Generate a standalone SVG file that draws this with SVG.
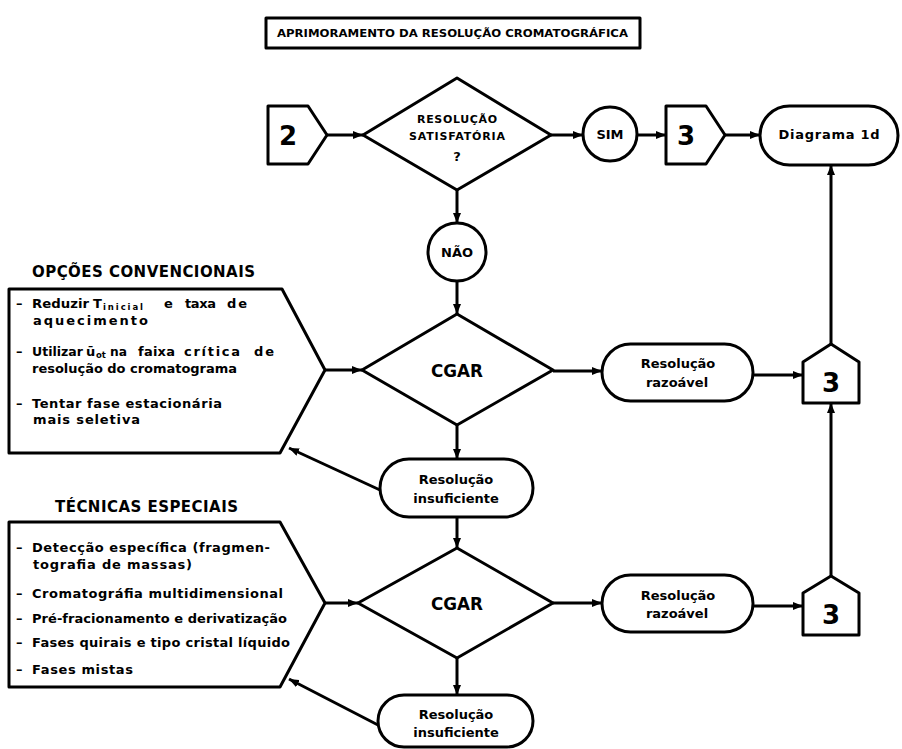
<svg xmlns="http://www.w3.org/2000/svg" width="902" height="749" viewBox="0 0 902 749">
<style>
.s{fill:#fff;stroke:#000;stroke-width:3;stroke-linejoin:round}
.c{fill:none;stroke:#000;stroke-width:3}
text{font-family:"DejaVu Sans","Liberation Sans",sans-serif;font-weight:bold;fill:#000}
.m{text-anchor:middle}
.t{font-size:13px}
.h{font-size:15px}
.n{font-size:26px;text-anchor:middle}
.r{font-size:13px;text-anchor:middle}
.sub{font-size:8.5px}
</style>
<defs>
<marker id="ah" viewBox="0 0 10 8" refX="10" refY="4" markerWidth="10" markerHeight="8" markerUnits="userSpaceOnUse" orient="auto"><path d="M0,0 L10,4 L0,8 Z" fill="#000"/></marker>
</defs>
<rect width="902" height="749" fill="#fff"/>

<g id="title">
<rect class="s" x="266" y="18" width="374" height="30"/>
<text x="277" y="37" font-size="11" textLength="351" lengthAdjust="spacingAndGlyphs">APRIMORAMENTO DA RESOLUÇÃO CROMATOGRÁFICA</text>
</g>

<g id="connectors" class="c">
<line x1="327" y1="135" x2="363" y2="135" marker-end="url(#ah)"/>
<line x1="551" y1="135" x2="583" y2="135" marker-end="url(#ah)"/>
<line x1="637" y1="135" x2="666" y2="135" marker-end="url(#ah)"/>
<line x1="725" y1="135" x2="760" y2="135" marker-end="url(#ah)"/>
<line x1="457" y1="190" x2="457" y2="223" marker-end="url(#ah)"/>
<line x1="457" y1="281" x2="457" y2="314" marker-end="url(#ah)"/>
<line x1="325" y1="370" x2="362" y2="370" marker-end="url(#ah)"/>
<line x1="553" y1="371" x2="602" y2="371" marker-end="url(#ah)"/>
<line x1="753" y1="375" x2="803" y2="375" marker-end="url(#ah)"/>
<line x1="831" y1="344" x2="831" y2="165" marker-end="url(#ah)"/>
<line x1="457" y1="425" x2="457" y2="459" marker-end="url(#ah)"/>
<line x1="380" y1="490" x2="289" y2="448" marker-end="url(#ah)"/>
<line x1="457" y1="517" x2="457" y2="548" marker-end="url(#ah)"/>
<line x1="325" y1="603" x2="358" y2="603" marker-end="url(#ah)"/>
<line x1="553" y1="603" x2="602" y2="603" marker-end="url(#ah)"/>
<line x1="753" y1="606" x2="803" y2="606" marker-end="url(#ah)"/>
<line x1="831" y1="576" x2="831" y2="403" marker-end="url(#ah)"/>
<line x1="457" y1="658" x2="457" y2="695" marker-end="url(#ah)"/>
<line x1="378" y1="725" x2="289" y2="679" marker-end="url(#ah)"/>
</g>

<g id="n2">
<path class="s" d="M268,106 L308,106 L327,135 L308,164 L268,164 Z"/>
<text class="n" x="288" y="145">2</text>
</g>

<g id="dec1">
<path class="s" d="M457,78 L551,135 L457,190 L363,135 Z"/>
<text class="m" x="457" y="123" font-size="11" textLength="80" lengthAdjust="spacing">RESOLUÇÃO</text>
<text class="m" x="457" y="140" font-size="11" textLength="96" lengthAdjust="spacing">SATISFATÓRIA</text>
<text class="m" x="457" y="161" font-size="13">?</text>
</g>

<g id="sim">
<circle class="s" cx="610" cy="134" r="27"/>
<text class="r" x="610" y="139">SIM</text>
</g>

<g id="n3top">
<path class="s" d="M666,106 L706,106 L725,135 L706,164 L666,164 Z"/>
<text class="n" x="686" y="145">3</text>
</g>

<g id="diagrama1d">
<rect class="s" x="760" y="106" width="138" height="59" rx="29.5"/>
<text x="829" y="139" font-size="13" text-anchor="middle" textLength="101" lengthAdjust="spacing">Diagrama 1d</text>
</g>

<g id="nao">
<circle class="s" cx="457" cy="252" r="29"/>
<text class="r" x="457" y="257">NÃO</text>
</g>

<g id="opcoes">
<text class="h" x="32" y="277" textLength="223" lengthAdjust="spacing">OPÇÕES CONVENCIONAIS</text>
<path class="s" d="M9,289 L282,289 L325,370 L280,453 L9,453 Z"/>
<text class="t" x="16" y="308">–</text>
<text class="t" x="32" y="308" textLength="57" lengthAdjust="spacingAndGlyphs">Reduzir</text>
<text class="t" x="93" y="308">T</text>
<text class="sub" x="103" y="310" textLength="40" lengthAdjust="spacing">inicial</text>
<text class="t" x="164" y="308">e</text>
<text class="t" x="185" y="308" textLength="31" lengthAdjust="spacing">taxa</text>
<text class="t" x="227" y="308" textLength="20" lengthAdjust="spacing">de</text>
<text class="t" x="33" y="325" textLength="115" lengthAdjust="spacing">aquecimento</text>
<text class="t" x="16" y="356">–</text>
<text class="t" x="32" y="356" textLength="51" lengthAdjust="spacingAndGlyphs">Utilizar</text>
<text class="t" x="86" y="356">ū</text>
<text class="sub" x="96" y="358">ot</text>
<text class="t" x="110" y="356" textLength="17" lengthAdjust="spacingAndGlyphs">na</text>
<text class="t" x="138" y="356" textLength="37" lengthAdjust="spacing">faixa</text>
<text class="t" x="184" y="356" textLength="56" lengthAdjust="spacing">crítica</text>
<text class="t" x="254" y="356" textLength="20" lengthAdjust="spacing">de</text>
<text class="t" x="32" y="373" textLength="205" lengthAdjust="spacing">resolução do cromatograma</text>
<text class="t" x="16" y="408">–</text>
<text class="t" x="32" y="408" textLength="190" lengthAdjust="spacing">Tentar fase estacionária</text>
<text class="t" x="33" y="424" textLength="107" lengthAdjust="spacing">mais seletiva</text>
</g>

<g id="cgar1">
<path class="s" d="M457,314 L553,370 L457,425 L362,370 Z"/>
<text class="m" x="457" y="377" font-size="17" textLength="52" lengthAdjust="spacingAndGlyphs">CGAR</text>
</g>

<g id="razoavel1">
<rect class="s" x="602" y="344" width="151" height="57" rx="28.5"/>
<text class="r" x="678" y="368">Resolução</text>
<text class="r" x="677" y="387">razoável</text>
</g>

<g id="n3a">
<path class="s" d="M803,403 L803,362 L831,344 L859,362 L859,403 Z"/>
<text class="n" x="831" y="392">3</text>
</g>

<g id="insuf1">
<rect class="s" x="380" y="459" width="153" height="58" rx="29"/>
<text class="r" x="456" y="484">Resolução</text>
<text class="r" x="456" y="503">insuficiente</text>
</g>

<g id="tecnicas">
<text class="h" x="55" y="512" textLength="183" lengthAdjust="spacing">TÉCNICAS ESPECIAIS</text>
<path class="s" d="M9,522 L280,522 L325,603 L280,687 L9,687 Z"/>
<text class="t" x="16" y="552">–</text>
<text class="t" x="32" y="552" textLength="238" lengthAdjust="spacing">Detecção específica (fragmen-</text>
<text class="t" x="33" y="569" textLength="159" lengthAdjust="spacing">tografia de massas)</text>
<text class="t" x="16" y="598">–</text>
<text class="t" x="32" y="598" textLength="251" lengthAdjust="spacing">Cromatográfia multidimensional</text>
<text class="t" x="16" y="623">–</text>
<text class="t" x="32" y="623" textLength="255" lengthAdjust="spacing">Pré-fracionamento e derivatização</text>
<text class="t" x="16" y="647">–</text>
<text class="t" x="32" y="647" textLength="258" lengthAdjust="spacing">Fases quirais e tipo cristal líquido</text>
<text class="t" x="16" y="674">–</text>
<text class="t" x="32" y="674" textLength="101" lengthAdjust="spacing">Fases mistas</text>
</g>

<g id="cgar2">
<path class="s" d="M457,548 L553,603 L457,658 L358,603 Z"/>
<text class="m" x="457" y="610" font-size="17" textLength="52" lengthAdjust="spacingAndGlyphs">CGAR</text>
</g>

<g id="razoavel2">
<rect class="s" x="602" y="575" width="151" height="57" rx="28.5"/>
<text class="r" x="678" y="600">Resolução</text>
<text class="r" x="677" y="618">razoável</text>
</g>

<g id="n3b">
<path class="s" d="M803,635 L803,593 L831,576 L859,593 L859,635 Z"/>
<text class="n" x="831" y="624">3</text>
</g>

<g id="insuf2">
<rect class="s" x="378" y="695" width="155" height="52" rx="26"/>
<text class="r" x="456" y="719">Resolução</text>
<text class="r" x="456" y="737">insuficiente</text>
</g>
</svg>
